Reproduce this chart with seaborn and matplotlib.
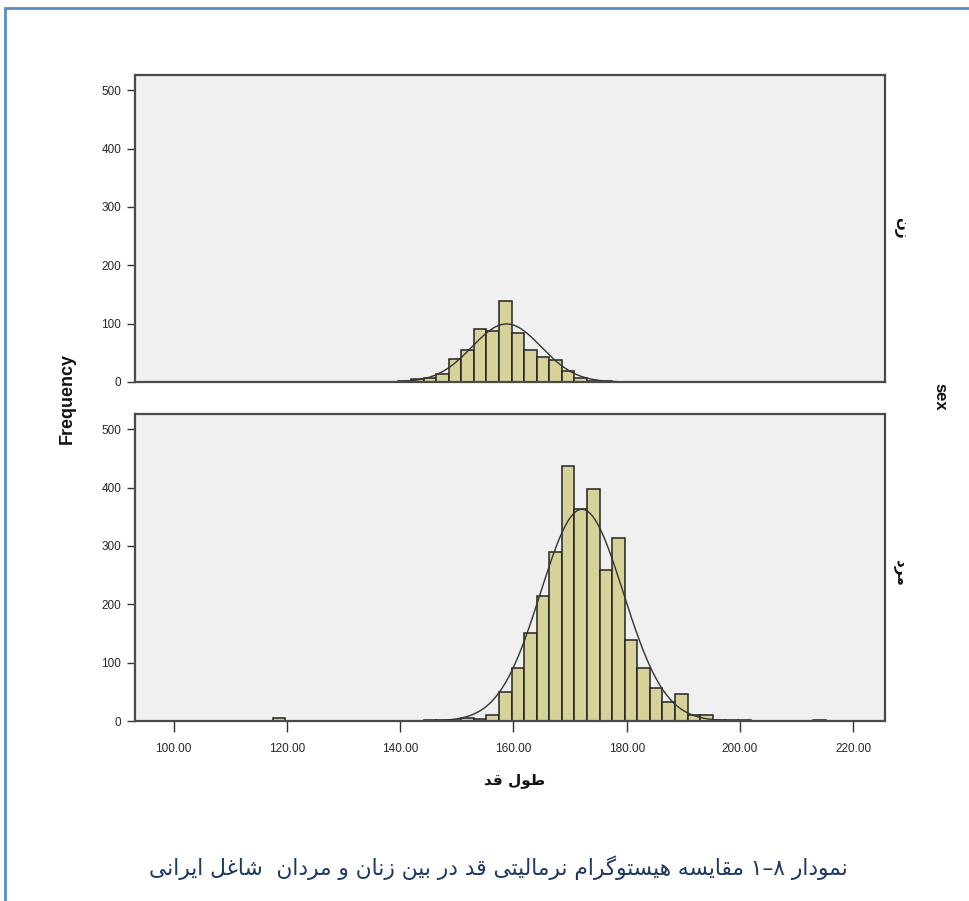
import numpy as np
import pandas as pd
import matplotlib
matplotlib.use("Agg")
import matplotlib.pyplot as plt
from matplotlib.lines import Line2D
import seaborn as sns

# ---------------- data ----------------
bin_start = 117.5          # left edge of the first histogram bin (cm)
bin_width = 2.22           # width of each bin (cm)
# counts per bin, bin index 0 .. 43
women_counts = [0, 0, 0, 0, 0, 0, 0, 0, 0, 0,
                1, 5, 7, 13, 40, 55, 90, 88, 139, 84,
                55, 42, 37, 19, 7, 2, 1, 0, 0, 0,
                0, 0, 0, 0, 0, 0, 0, 0, 0, 0,
                0, 0, 0, 0]
men_counts = [5, 0, 0, 0, 0, 0, 0, 0, 0, 0,
              0, 0, 1, 2, 2, 5, 4, 11, 50, 91,
              150, 214, 289, 437, 364, 398, 259, 314, 139, 91,
              57, 33, 46, 11, 11, 2, 1, 1, 0, 0,
              0, 0, 0, 2]
# fitted normal curves (mean, std. dev.)
women_mean, women_sd = 158.8, 6.1
men_mean, men_sd = 172.1, 7.3

panel_labels = ["زن", "مرد"]
x_ticks = [100, 120, 140, 160, 180, 200, 220]
y_ticks = [0, 100, 200, 300, 400, 500]
x_label = "طول قد"
y_label = "Frequency"
facet_title = "sex"
caption = "نمودار ۸–۱ مقایسه هیستوگرام نرمالیتی قد در بین زنان و مردان  شاغل ایرانی"

# ---------------- minimal Persian shaping for matplotlib ----------------
FORMS = {
    'ا': ('\uFE8D', '\uFE8E', None, None),
    'ب': ('\uFE8F', '\uFE90', '\uFE91', '\uFE92'),
    'ت': ('\uFE95', '\uFE96', '\uFE97', '\uFE98'),
    'د': ('\uFEA9', '\uFEAA', None, None),
    'ر': ('\uFEAD', '\uFEAE', None, None),
    'ز': ('\uFEAF', '\uFEB0', None, None),
    'س': ('\uFEB1', '\uFEB2', '\uFEB3', '\uFEB4'),
    'ش': ('\uFEB5', '\uFEB6', '\uFEB7', '\uFEB8'),
    'ط': ('\uFEC1', '\uFEC2', '\uFEC3', '\uFEC4'),
    'غ': ('\uFECD', '\uFECE', '\uFECF', '\uFED0'),
    'ق': ('\uFED5', '\uFED6', '\uFED7', '\uFED8'),
    'ل': ('\uFEDD', '\uFEDE', '\uFEDF', '\uFEE0'),
    'م': ('\uFEE1', '\uFEE2', '\uFEE3', '\uFEE4'),
    'ن': ('\uFEE5', '\uFEE6', '\uFEE7', '\uFEE8'),
    'ه': ('\uFEE9', '\uFEEA', '\uFEEB', '\uFEEC'),
    'و': ('\uFEED', '\uFEEE', None, None),
    'ی': ('\uFBFC', '\uFBFD', '\uFBFE', '\uFBFF'),
    'گ': ('\uFB92', '\uFB93', '\uFB94', '\uFB95'),
}


def rtl(s):
    out = []
    n = len(s)
    for i, c in enumerate(s):
        if c not in FORMS:
            out.append(c)
            continue
        f = FORMS[c]
        prev = s[i - 1] if i > 0 else None
        nxt = s[i + 1] if i < n - 1 else None
        jp = prev in FORMS and FORMS[prev][2] is not None
        jn = nxt in FORMS and f[2] is not None
        if jp and jn:
            out.append(f[3])
        elif jp:
            out.append(f[1])
        elif jn:
            out.append(f[2])
        else:
            out.append(f[0])
    return "".join(out)[::-1]


# ---------------- build tidy table ----------------
n_bins = len(men_counts)
bin_end = bin_start + bin_width * n_bins
centers = bin_start + bin_width * (np.arange(n_bins) + 0.5)
df = pd.concat([
    pd.DataFrame({"height": centers, "count": women_counts, "sex": "women"}),
    pd.DataFrame({"height": centers, "count": men_counts, "sex": "men"}),
], ignore_index=True)

# ---------------- figure ----------------
sns.set_style("white")
plt.rcParams["font.family"] = ["Liberation Sans", "DejaVu Sans"]
W, H = 969, 901
fig = plt.figure(figsize=(W / 100, H / 100), dpi=100)
fig.patch.set_facecolor("white")


def fx(px):
    return px / W


def fy(py):
    return 1 - py / H


bar_color = "#D7D29A"
frame_color = "#4a4a4a"
xlim = (93.2, 225.6)
ylim = (0, 526)

panels = [
    ("women", women_mean, women_sd, 75, 382),
    ("men", men_mean, men_sd, 414, 721),
]
axes = []
for name, mu, sd, top, bot in panels:
    ax = fig.add_axes([fx(135), fy(bot), fx(885) - fx(135), fy(top) - fy(bot)])
    ax.set_facecolor("#F0F0F0")
    sub = df[df["sex"] == name].reset_index(drop=True)
    sns.histplot(data=sub, x="height", weights="count",
                 binwidth=bin_width, binrange=(bin_start, bin_end), ax=ax,
                 color=bar_color, edgecolor="#222222", linewidth=1.1, alpha=1.0)
    for p in list(ax.patches):
        if p.get_height() <= 0:
            p.remove()
    n_total = sub["count"].sum()
    xs = np.linspace(mu - 4 * sd, mu + 4 * sd, 300)
    ys = n_total * bin_width * np.exp(-0.5 * ((xs - mu) / sd) ** 2) / (sd * np.sqrt(2 * np.pi))
    sns.lineplot(x=xs, y=ys, ax=ax, color="#333333", linewidth=1.0)
    ax.set_xlim(*xlim)
    ax.set_ylim(*ylim)
    ax.set_yticks(y_ticks)
    ax.set_yticklabels([str(v) for v in y_ticks])
    ax.set_xlabel("")
    ax.set_ylabel("")
    for s in ax.spines.values():
        s.set_color(frame_color)
        s.set_linewidth(1.6)
    ax.tick_params(axis="y", direction="out", length=6, width=1, color="#333333",
                   labelsize=8.5, pad=4, left=True)
    axes.append(ax)

axes[0].set_xticks([])
axes[1].set_xticks(x_ticks)
axes[1].set_xticklabels([f"{v:.2f}" for v in x_ticks])
axes[1].tick_params(axis="x", direction="out", length=8, width=1, color="#333333",
                    labelsize=8.5, pad=8, bottom=True)

# axis titles
fig.text(fx(67), fy(398), y_label, rotation=90, ha="center", va="center",
         fontsize=13, fontweight="bold", color="#111111")
fig.text(fx(515), fy(781), rtl(x_label), ha="center", va="center",
         fontsize=11, fontweight="bold", color="#111111", family=["DejaVu Sans"])
# facet labels
fig.text(fx(901), fy(228), rtl(panel_labels[0]), rotation=-90, ha="center", va="center",
         fontsize=11, fontweight="bold", color="#111111", family=["DejaVu Sans"])
fig.text(fx(901), fy(572), rtl(panel_labels[1]), rotation=-90, ha="center", va="center",
         fontsize=11, fontweight="bold", color="#111111", family=["DejaVu Sans"])
fig.text(fx(940), fy(397), facet_title, rotation=-90, ha="center", va="center",
         fontsize=12, fontweight="bold", color="#111111")

# caption
fig.text(fx(498), fy(868), rtl(caption), ha="center", va="center",
         fontsize=15.7, color="#1F3763", family=["DejaVu Sans"])

# blue document frame
fig.add_artist(Line2D([fx(5), 1.0], [fy(8), fy(8)], transform=fig.transFigure,
                      color="#5B8AC6", linewidth=2.0))
fig.add_artist(Line2D([fx(5), fx(5)], [fy(8), 0.0], transform=fig.transFigure,
                      color="#5B8AC6", linewidth=2.0))

fig.savefig("out.png", dpi=100, facecolor="white")
